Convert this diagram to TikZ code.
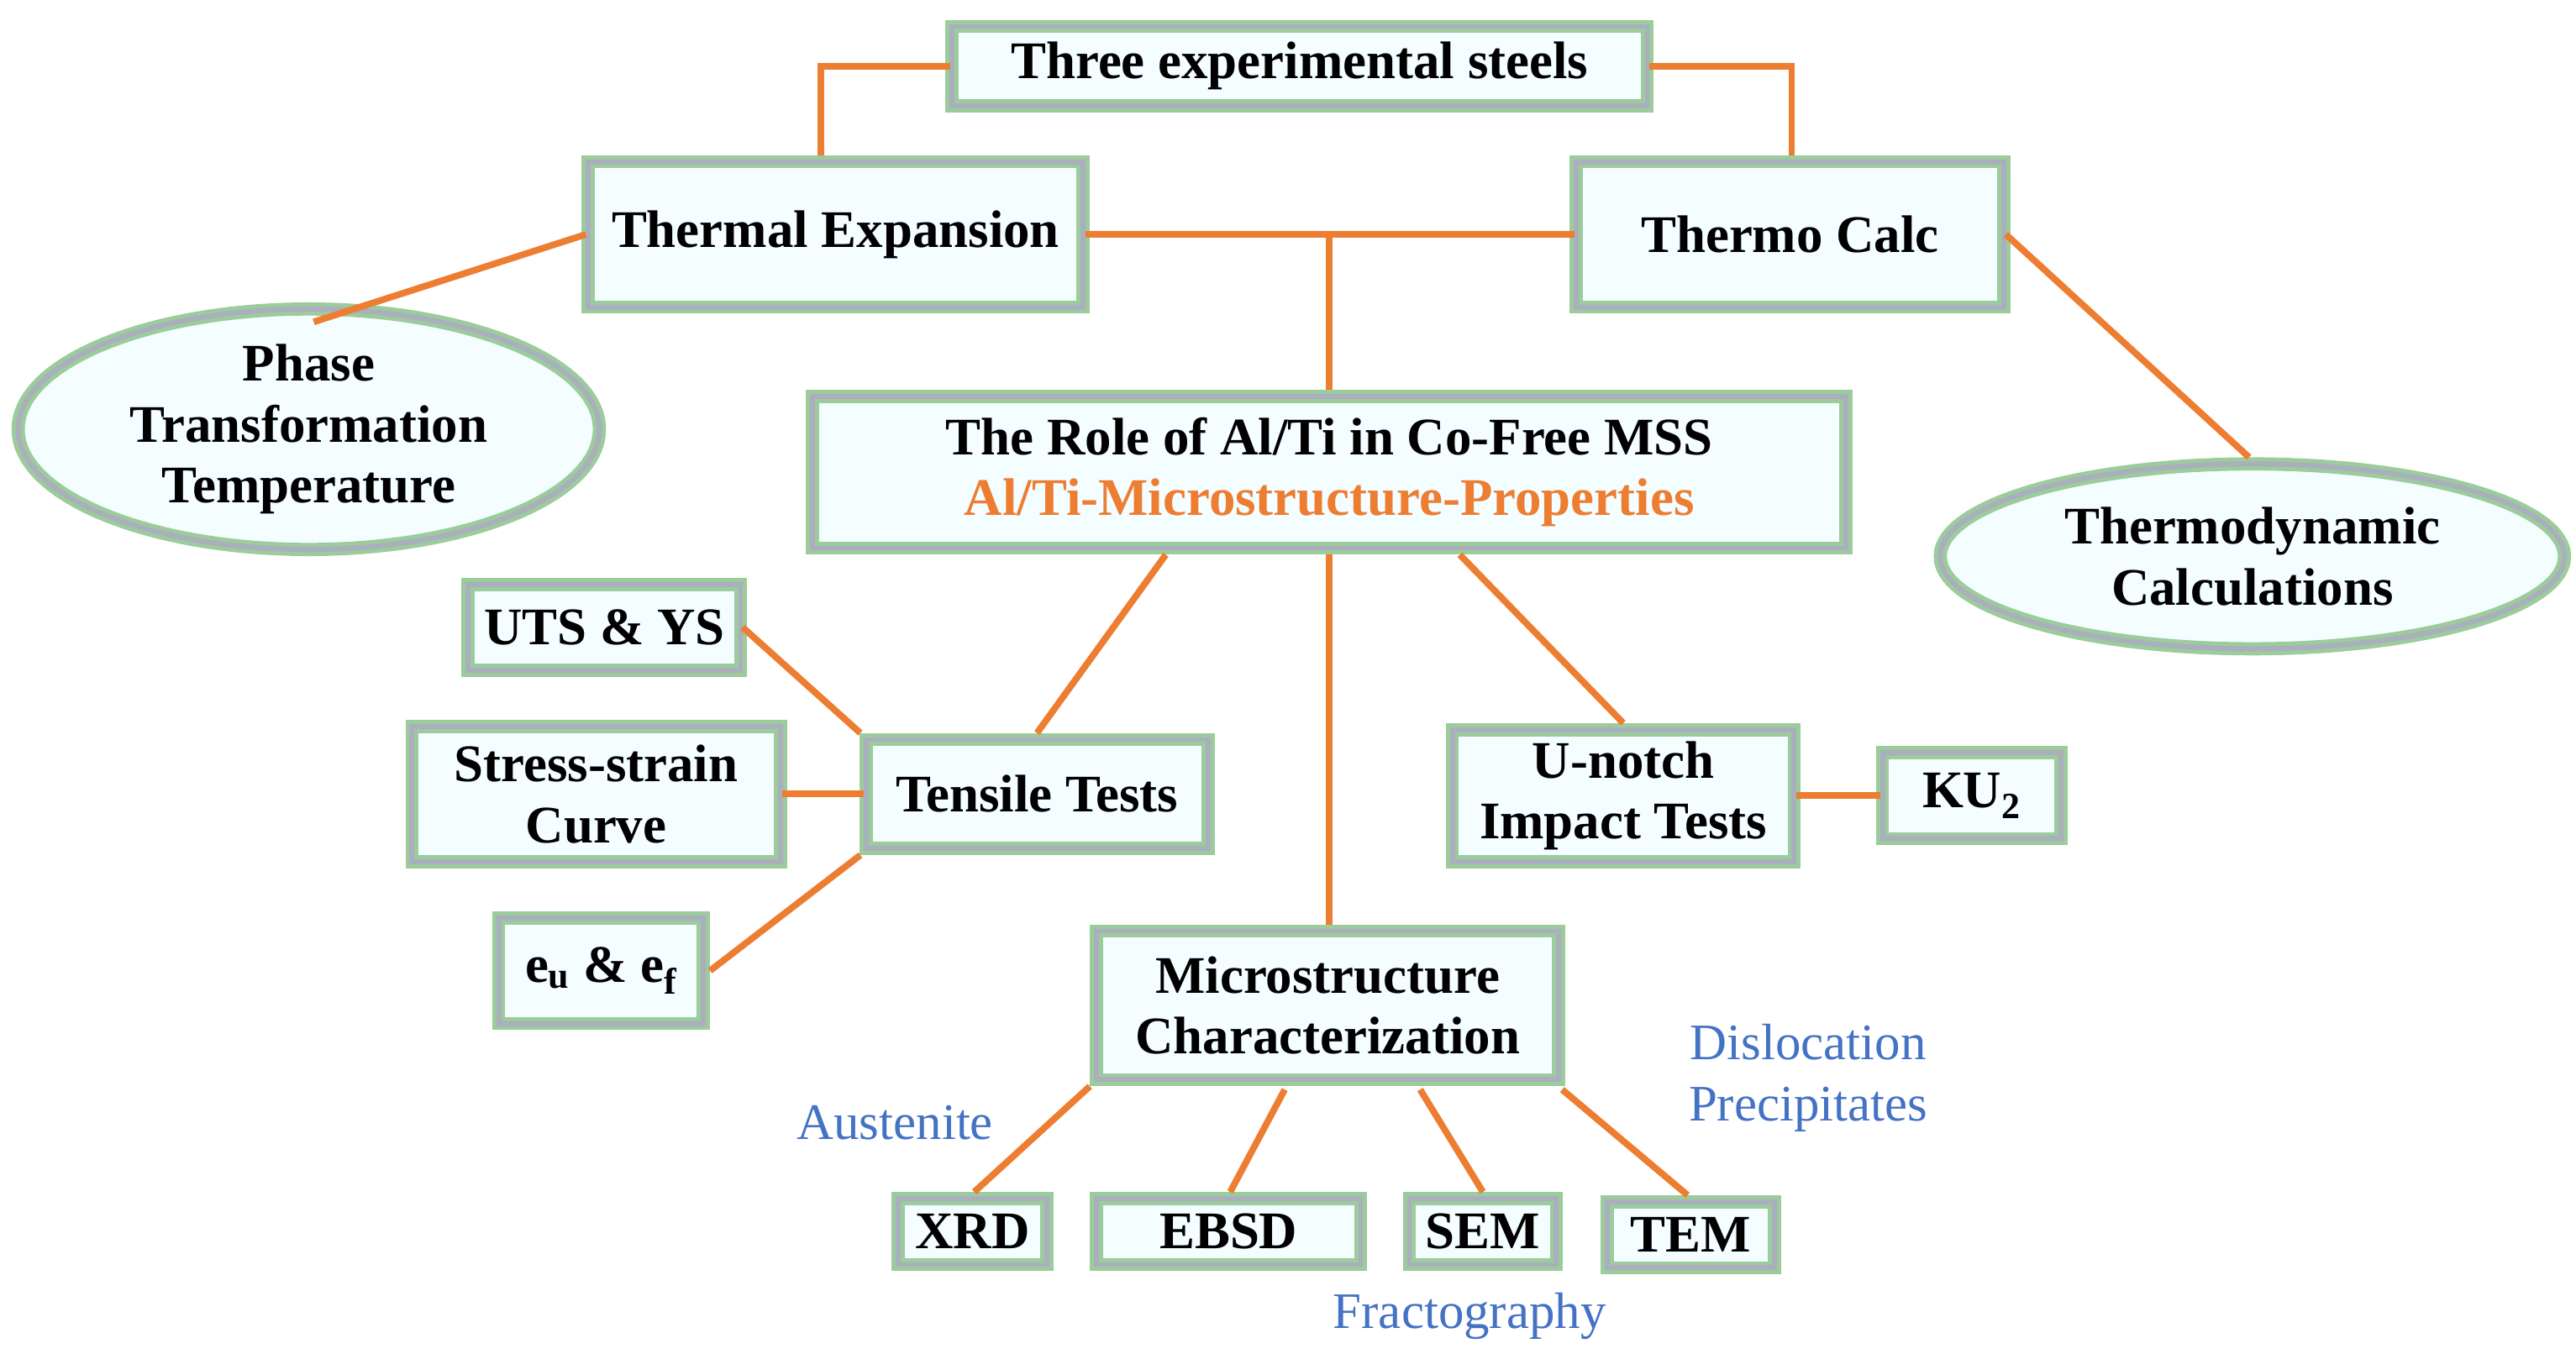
\documentclass[tikz,border=0pt]{standalone}
\usepackage{fontspec}
\setmainfont{Liberation Serif}
\usetikzlibrary{shapes.geometric}
\definecolor{org}{HTML}{ED7D31}
\definecolor{blu}{HTML}{4472C4}
\definecolor{grn}{HTML}{9CCB9C}
\definecolor{face}{HTML}{F4FDFF}
\definecolor{bev}{HTML}{A9AFBC}
\begin{document}
\begin{tikzpicture}[x=1pt,y=-1pt,
  box/.style={draw=grn,line width=2.5pt,double=bev,double distance=3pt,fill=face,
    minimum width=#1,inner sep=0pt,align=center,font=\fontsize{32}{37}\selectfont\bfseries},
  ell/.style={ellipse,draw=grn,line width=2.5pt,double=bev,double distance=3pt,fill=face,
    inner sep=0pt,align=center,font=\fontsize{32}{37}\selectfont\bfseries},
  ln/.style={draw=org,line width=4pt},
  lab/.style={text=blu,font=\fontsize{31}{37}\selectfont,align=center}]
\useasboundingbox (0,0) rectangle (1560,820);
\node[box=421pt,minimum height=48pt] (steel) at (787,40) {Three experimental steels};
\node[box=300pt,minimum height=88pt] (te) at (506,142) {Thermal Expansion};
\node[box=259pt,minimum height=88pt] (tc) at (1084,142) {Thermo Calc};
\node[box=626pt,minimum height=92pt] (role) at (805,286) {The Role of Al/Ti in Co-Free MSS\\\textcolor{org}{Al/Ti-Microstructure-Properties}};
\node[ell,minimum width=352pt,minimum height=118pt] (ptt) at (187,260) {Phase\\Transformation\\Temperature};
\node[ell,minimum width=378pt,minimum height=112pt] (tdc) at (1364,337) {Thermodynamic\\Calculations};
\node[box=165pt,minimum height=52pt] (uts) at (366,380) {UTS \& YS};
\node[box=223pt,minimum height=82pt] (ss) at (361,481) {Stress-strain\\Curve};
\node[box=124pt,minimum height=64pt] (eu) at (364,588) {e\textsubscript{u} \& e\textsubscript{f}};
\node[box=207pt,minimum height=66pt] (tt) at (628,481) {Tensile Tests};
\node[box=207pt,minimum height=80pt] (un) at (983,482) {U-notch\\Impact Tests};
\node[box=108pt,minimum height=52pt] (ku) at (1194,482) {KU\textsubscript{2}};
\node[box=280pt,minimum height=90pt] (mc) at (804,609) {Microstructure\\Characterization};
\node[box=90pt,minimum height=40pt] (xrd) at (589,746) {XRD};
\node[box=160pt,minimum height=40pt] (ebsd) at (744,746) {EBSD};
\node[box=89pt,minimum height=40pt] (sem) at (898,746) {SEM};
\node[box=101pt,minimum height=40pt] (tem) at (1024,748) {TEM};
\node[lab] (aus) at (542,680) {Austenite};
\node[lab] (dis) at (1095,653) {Dislocation\\Precipitates};
\node[lab] (fra) at (890,797) {Fractography};
\coordinate (j) at (805,142);
\path[ln] (steel.west) -- (497,40) -- (497,94);
\path[ln] (steel.east) -- (1085,40) -- (1085,94);
\path[ln] (te.east) -- (tc.west);
\path[ln] (j) -- (805,236);
\path[ln] (te.west) -- (190,195);
\path[ln] (tc.east) -- (1362,277);
\path[ln] (706,336) -- (628,444);
\path[ln] (884,336) -- (983,438);
\path[ln] (805,336) -- (805,560);
\path[ln] (uts.east) -- (521,444);
\path[ln] (ss.east) -- (tt.west);
\path[ln] (430,588) -- (521,518);
\path[ln] (un.east) -- (ku.west);
\path[ln] (660,658) -- (590,722);
\path[ln] (778,660) -- (745,722);
\path[ln] (860,660) -- (898,722);
\path[ln] (946,660) -- (1022,724);
\end{tikzpicture}
\end{document}
